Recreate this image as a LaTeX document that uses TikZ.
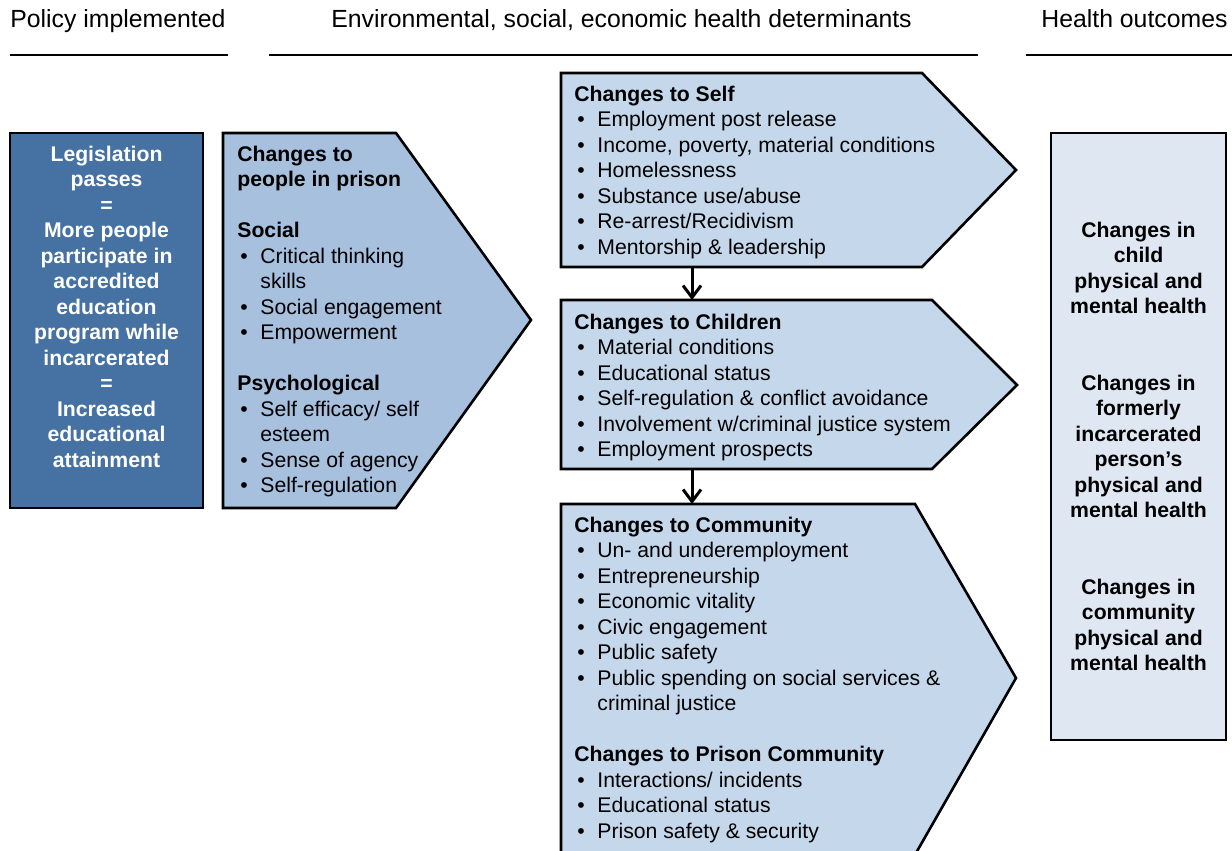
\documentclass[tikz,border=0pt]{standalone}
\usepackage{fontspec}
\setmainfont{Liberation Sans}
\usetikzlibrary{arrows.meta}
\definecolor{policyblue}{RGB}{69,114,162}
\definecolor{prisonblue}{RGB}{167,192,222}
\definecolor{detblue}{RGB}{197,215,235}
\definecolor{outblue}{RGB}{222,231,242}
\newcommand{\bul}{\hspace*{1.5pt}\makebox[10pt][l]{\textbullet}}
\newcommand{\cont}{\hspace*{11.5pt}}
\begin{document}
\begin{tikzpicture}[x=0.5pt, y=-0.5pt,
    box/.style={draw=black, line width=1.3pt, line join=miter},
    txt/.style={font=\fontsize{10.6}{12.75}\selectfont, inner sep=0pt, align=left, anchor=base west},
    head/.style={font=\fontsize{12.4}{15}\selectfont, inner sep=0pt, anchor=base west},
    boldc/.style={font=\fontsize{10.6}{12.75}\selectfont\bfseries, inner sep=0pt, align=center, anchor=base},
    arr/.style={-{Straight Barb[length=6pt,width=9pt]}, line width=1.5pt}]
    \useasboundingbox (0,0) rectangle (1232,851);
    % column headings
    \node[head] (policy) at (10,27) {Policy implemented};
    \node[head] (determ) at (331,27) {Environmental, social, economic health determinants};
    \node[head] (outcome) at (1041,27) {Health outcomes};
    \draw[line width=1.4pt] (10,55) -- (228,55);
    \draw[line width=1.4pt] (269,55) -- (978,55);
    \draw[line width=1.4pt] (1026,55) -- (1232,55);
    % policy box (text nodes sit on their last baseline)
    \draw[box, fill=policyblue] (10,133) rectangle (203,508);
    \node[boldc, text=white] (legis) at (106.5,467)
        {Legislation\\passes\\=\\More people\\participate in\\accredited\\education\\program while\\incarcerated\\=\\Increased\\educational\\attainment};
    % people in prison
    \draw[box, fill=prisonblue] (223,133) -- (396,133) -- (531,320) -- (396,508) -- (223,508) -- cycle;
    \node[txt] (prison) at (237,492.5)
        {\textbf{Changes to}\\\textbf{people in prison}\\[12.75pt]
         \textbf{Social}\\\bul Critical thinking\\\cont skills\\\bul Social engagement\\\bul Empowerment\\[12.75pt]
         \textbf{Psychological}\\\bul Self efficacy/ self\\\cont esteem\\\bul Sense of agency\\\bul Self-regulation};
    % determinants
    \draw[box, fill=detblue] (561,73) -- (922,73) -- (1016,170) -- (922,267) -- (561,267) -- cycle;
    \node[txt] (self) at (574,254)
        {\textbf{Changes to Self}\\\bul Employment post release\\\bul Income, poverty, material conditions\\\bul Homelessness\\
         \bul Substance use/abuse\\\bul Re-arrest/Recidivism\\\bul Mentorship \& leadership};
    \draw[box, fill=detblue] (561,300) -- (932,300) -- (1017,385) -- (932,469) -- (561,469) -- cycle;
    \node[txt] (children) at (574,456.5)
        {\textbf{Changes to Children}\\\bul Material conditions\\\bul Educational status\\\bul Self-regulation \& conflict avoidance\\
         \bul Involvement w/criminal justice system\\\bul Employment prospects};
    \draw[box, fill=detblue] (561,504) -- (915,504) -- (1016,678) -- (916,853) -- (561,853) -- cycle;
    \node[txt] (community) at (574,838)
        {\textbf{Changes to Community}\\\bul Un- and underemployment\\\bul Entrepreneurship\\\bul Economic vitality\\
         \bul Civic engagement\\\bul Public safety\\\bul Public spending on social services \&\\\cont criminal justice\\[12.75pt]
         \textbf{Changes to Prison Community}\\\bul Interactions/ incidents\\\bul Educational status\\\bul Prison safety \& security};
    \coordinate (selfbot) at (692,267);
    \coordinate (childtop) at (692,300);
    \coordinate (childbot) at (692,469);
    \coordinate (commtop) at (692,504);
    \draw[arr] (selfbot) -- (childtop);
    \draw[arr] (childbot) -- (commtop);
    % health outcomes
    \draw[box, fill=outblue] (1051,133) rectangle (1226,740);
    \node[boldc] (health) at (1138.5,670.5)
        {Changes in\\child\\physical and\\mental health\\[25.5pt]
         Changes in\\formerly\\incarcerated\\person’s\\physical and\\mental health\\[25.5pt]
         Changes in\\community\\physical and\\mental health};
\end{tikzpicture}
\end{document}
